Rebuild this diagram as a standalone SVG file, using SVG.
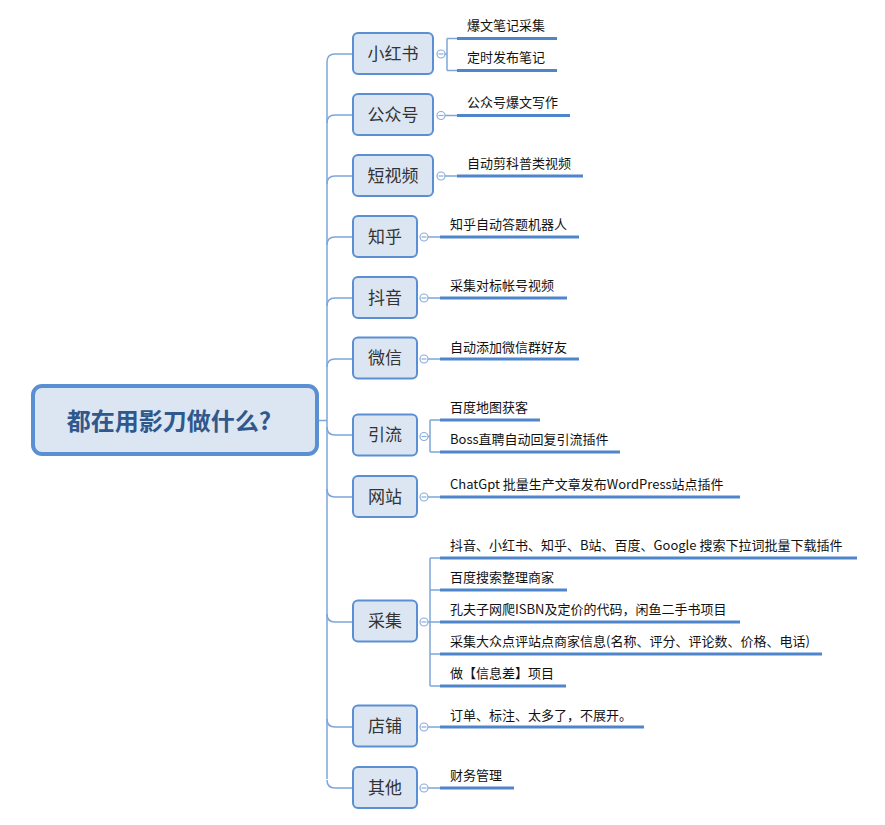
<svg xmlns="http://www.w3.org/2000/svg" width="885" height="825" viewBox="0 0 885 825">
<style>
.box{fill:#dce6f2;stroke:#5b8fd4;stroke-width:2}
.lbl{font-family:"Noto Sans CJK SC","Liberation Sans",sans-serif;font-size:17px;fill:#333;text-anchor:middle}
.sub{font-family:"Noto Sans CJK SC","Liberation Sans",sans-serif;font-size:13px;fill:#111}
.ul{stroke:#4f86cb;stroke-width:3;fill:none}
.conn{stroke:#7ea6d9;stroke-width:1.5;fill:none}
.tg{fill:#fff;stroke:#8aaedb;stroke-width:1.2}
.tgm{stroke:#8aaedb;stroke-width:1.2}
</style>
<rect width="885" height="825" fill="#fff"/>
<g id="connectors" class="conn">
<path d="M318,420.5 H327"/>
<path d="M327,62 V779"/>
<path d="M327,62 Q327,54 335,54 H353"/>
<path d="M327,123 Q327,115 335,115 H353"/>
<path d="M327,184 Q327,176 335,176 H353"/>
<path d="M327,245 Q327,237 335,237 H353"/>
<path d="M327,306 Q327,298 335,298 H353"/>
<path d="M327,367 Q327,359 335,359 H353"/>
<path d="M327,427 Q327,435 335,435 H353"/>
<path d="M327,489 Q327,497 335,497 H353"/>
<path d="M327,614 Q327,622 335,622 H353"/>
<path d="M327,719 Q327,727 335,727 H353"/>
<path d="M327,780 Q327,788 335,788 H353"/>
<path d="M445,54 H447 M447,38.5 V70.5 M447,38.5 H457 M447,70.5 H457"/>
<path d="M445,115.5 H457"/>
<path d="M445,176 H457"/>
<path d="M428,237 H440"/>
<path d="M428,298 H440"/>
<path d="M428,359 H440"/>
<path d="M428,436.5 H430 M430,420 V452 M430,420 H440 M430,452 H440"/>
<path d="M428,497 H440"/>
<path d="M428,622 H430 M430,558 V686 M430,558 H440 M430,590 H440 M430,622 H440 M430,654 H440 M430,686 H440"/>
<path d="M428,727 H440"/>
<path d="M428,788 H440"/>
</g>
<g id="root">
<rect x="33" y="386" width="284" height="68" rx="9" fill="#dce6f2" stroke="#5b8fd4" stroke-width="4"/>
<text x="169" y="429.5" font-family="'Noto Sans CJK SC','Liberation Sans',sans-serif" font-size="24" font-weight="bold" fill="#30588c" text-anchor="middle">都在用影刀做什么?</text>
</g>
<g id="n-xiaohongshu">
<rect class="box" x="353" y="33" width="80" height="41" rx="5"/>
<text class="lbl" x="393" y="59.5">小红书</text>
<circle class="tg" cx="441" cy="54" r="4"/><path class="tgm" d="M438.5,54 H443.5"/>
</g>
<g id="c-xhs-1"><path class="ul" d="M457,38.5 H557"/><text class="sub" x="467" y="30">爆文笔记采集</text></g>
<g id="c-xhs-2"><path class="ul" d="M457,70.5 H557"/><text class="sub" x="467" y="62">定时发布笔记</text></g>
<g id="n-gongzhonghao">
<rect class="box" x="353" y="94" width="80" height="41" rx="5"/>
<text class="lbl" x="393" y="120.5">公众号</text>
<circle class="tg" cx="441" cy="115.5" r="4"/><path class="tgm" d="M438.5,115.5 H443.5"/>
</g>
<g id="c-gzh-1"><path class="ul" d="M457,115.5 H570"/><text class="sub" x="467" y="106.5">公众号爆文写作</text></g>
<g id="n-duanshipin">
<rect class="box" x="353" y="155" width="80" height="41" rx="5"/>
<text class="lbl" x="393" y="181.5">短视频</text>
<circle class="tg" cx="441" cy="176" r="4"/><path class="tgm" d="M438.5,176 H443.5"/>
</g>
<g id="c-dsp-1"><path class="ul" d="M457,176 H583"/><text class="sub" x="467" y="168">自动剪科普类视频</text></g>
<g id="n-zhihu">
<rect class="box" x="353" y="216" width="64" height="41" rx="5"/>
<text class="lbl" x="385" y="242.5">知乎</text>
<circle class="tg" cx="424" cy="237" r="4"/><path class="tgm" d="M421.5,237 H426.5"/>
</g>
<g id="c-zh-1"><path class="ul" d="M440,237 H579"/><text class="sub" x="450" y="229">知乎自动答题机器人</text></g>
<g id="n-douyin">
<rect class="box" x="353" y="277" width="64" height="41" rx="5"/>
<text class="lbl" x="385" y="303.5">抖音</text>
<circle class="tg" cx="424" cy="298" r="4"/><path class="tgm" d="M421.5,298 H426.5"/>
</g>
<g id="c-dy-1"><path class="ul" d="M440,298 H567"/><text class="sub" x="450" y="290">采集对标帐号视频</text></g>
<g id="n-weixin">
<rect class="box" x="353" y="337.5" width="64" height="41" rx="5"/>
<text class="lbl" x="385" y="364">微信</text>
<circle class="tg" cx="424" cy="359" r="4"/><path class="tgm" d="M421.5,359 H426.5"/>
</g>
<g id="c-wx-1"><path class="ul" d="M440,359 H579"/><text class="sub" x="450" y="351.5">自动添加微信群好友</text></g>
<g id="n-yinliu">
<rect class="box" x="353" y="414.5" width="64" height="41" rx="5"/>
<text class="lbl" x="385" y="441">引流</text>
<circle class="tg" cx="424" cy="436.5" r="4"/><path class="tgm" d="M421.5,436.5 H426.5"/>
</g>
<g id="c-yl-1"><path class="ul" d="M440,420 H540"/><text class="sub" x="450" y="412">百度地图获客</text></g>
<g id="c-yl-2"><path class="ul" d="M440,452 H620"/><text class="sub" x="450" y="444">Boss直聘自动回复引流插件</text></g>
<g id="n-wangzhan">
<rect class="box" x="353" y="476" width="64" height="41" rx="5"/>
<text class="lbl" x="385" y="502.5">网站</text>
<circle class="tg" cx="424" cy="497" r="4"/><path class="tgm" d="M421.5,497 H426.5"/>
</g>
<g id="c-wz-1"><path class="ul" d="M440,497 H740"/><text class="sub" x="450" y="489">ChatGpt 批量生产文章发布WordPress站点插件</text></g>
<g id="n-caiji">
<rect class="box" x="353" y="600.5" width="64" height="41" rx="5"/>
<text class="lbl" x="385" y="627">采集</text>
<circle class="tg" cx="424" cy="622" r="4"/><path class="tgm" d="M421.5,622 H426.5"/>
</g>
<g id="c-cj-1"><path class="ul" d="M440,558 H857"/><text class="sub" x="450" y="550">抖音、小红书、知乎、B站、百度、Google 搜索下拉词批量下载插件</text></g>
<g id="c-cj-2"><path class="ul" d="M440,590 H567"/><text class="sub" x="450" y="582">百度搜索整理商家</text></g>
<g id="c-cj-3"><path class="ul" d="M440,622 H740"/><text class="sub" x="450" y="614">孔夫子网爬ISBN及定价的代码，闲鱼二手书项目</text></g>
<g id="c-cj-4"><path class="ul" d="M440,654 H822"/><text class="sub" x="450" y="646">采集大众点评站点商家信息(名称、评分、评论数、价格、电话)</text></g>
<g id="c-cj-5"><path class="ul" d="M440,686 H566"/><text class="sub" x="450" y="678">做【信息差】项目</text></g>
<g id="n-dianpu">
<rect class="box" x="353" y="705.5" width="64" height="41" rx="5"/>
<text class="lbl" x="385" y="732">店铺</text>
<circle class="tg" cx="424" cy="727" r="4"/><path class="tgm" d="M421.5,727 H426.5"/>
</g>
<g id="c-dp-1"><path class="ul" d="M440,727 H644"/><text class="sub" x="450" y="720">订单、标注、太多了，不展开。</text></g>
<g id="n-qita">
<rect class="box" x="353" y="767" width="64" height="41" rx="5"/>
<text class="lbl" x="385" y="793.5">其他</text>
<circle class="tg" cx="424" cy="788" r="4"/><path class="tgm" d="M421.5,788 H426.5"/>
</g>
<g id="c-qt-1"><path class="ul" d="M440,788 H514"/><text class="sub" x="450" y="780">财务管理</text></g>
</svg>
